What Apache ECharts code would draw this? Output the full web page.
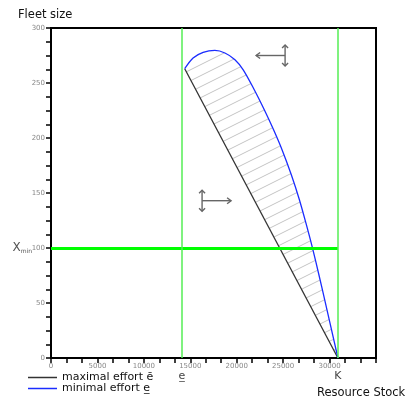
<!DOCTYPE html>
<html><head><meta charset="utf-8">
<script src="https://cdn.jsdelivr.net/npm/echarts@6/dist/echarts.min.js"></script>
<style>html,body{margin:0;padding:0;background:#fff}#c{width:409px;height:403px}</style>
</head><body><div id="c"></div>
<script>
// ---- data ----
const xAxisMax = 35000;
const yAxisMax = 300;
const maxEffortX = [14400, 30900];
const maxEffortY = [263, 0];
const minEffortX = [14400, 15300, 16380, 17650, 18730, 19810, 20700, 21890, 22970, 23970, 24880, 25880, 26750, 27500, 28150, 28850, 29470, 30900];
const minEffortY = [263, 272.7, 277.8, 279.6, 277.3, 271.2, 262, 243.9, 225.7, 207.5, 189.4, 166.6, 143.9, 121.2, 100.3, 75.7, 53, 0];
const eLower = 14100;      // minimal stock level (e underlined)
const Kvalue = 30900;      // carrying capacity K
const xMinValue = 100;     // minimal fleet size
const arrowX = [25210, 16270];
const arrowY = [275, 143];
const arrowDir = [-1, 1];
const seriesNames = ['maximal effort \u0113', 'minimal effort e\u0332'];

// ---- hatch pattern ----
const hatch = document.createElement('canvas');
hatch.width = 22; hatch.height = 11;
(function () {
  const ctx = hatch.getContext('2d');
  ctx.strokeStyle = '#c4c4c4'; ctx.lineWidth = 1;
  for (let k = -1; k <= 1; k++) {
    ctx.beginPath();
    ctx.moveTo(0, 11 + 11 * k);
    ctx.lineTo(22, 0 + 11 * k);
    ctx.stroke();
  }
})();

const chart = echarts.init(document.getElementById('c'), null, {renderer: 'canvas'});
const tickLabel = {fontSize: 7, fontFamily: 'DejaVu Sans', color: '#888', formatter: v => String(v)};
const legendBase = {
  orient: 'horizontal', left: 28, icon: 'rect', itemWidth: 29, itemHeight: 1.5,
  selectedMode: false, padding: 0,
  textStyle: {fontSize: 11, fontFamily: 'DejaVu Sans', color: '#111'}
};

chart.setOption({
  animation: false,
  backgroundColor: '#fff',
  grid: {left: 51, right: 33, top: 28, bottom: 45, show: true, borderColor: '#000', borderWidth: 2},
  xAxis: {
    type: 'value', min: 0, max: xAxisMax, interval: 5000,
    axisLine: {show: true, onZero: false, lineStyle: {color: '#000', width: 2}},
    axisTick: {show: true, length: 5, lineStyle: {color: '#000', width: 1.5}},
    minorTick: {show: true, splitNumber: 3, length: 5, lineStyle: {color: '#000', width: 1.5}},
    splitLine: {show: false},
    axisLabel: Object.assign({margin: 5, showMaxLabel: false}, tickLabel)
  },
  yAxis: {
    type: 'value', min: 0, max: yAxisMax, interval: 50,
    axisLine: {show: true, onZero: false, lineStyle: {color: '#000', width: 2}},
    axisTick: {show: true, length: 5, lineStyle: {color: '#000', width: 1.5}},
    minorTick: {show: true, splitNumber: 4, length: 5, lineStyle: {color: '#000', width: 1.5}},
    splitLine: {show: false},
    axisLabel: Object.assign({margin: 6}, tickLabel)
  },
  legend: [
    Object.assign({data: [seriesNames[0]], top: 372}, legendBase),
    Object.assign({data: [seriesNames[1]], top: 383}, legendBase)
  ],
  graphic: [
    {type: 'text', left: 18, top: 9, style: {text: 'Fleet size', fontSize: 11.5, fontFamily: 'DejaVu Sans', fill: '#111'}},
    {type: 'text', left: 317, top: 387, style: {text: 'Resource Stock', fontSize: 11.5, fontFamily: 'DejaVu Sans', fill: '#111'}}
  ],
  series: [
    {
      type: 'custom', name: 'hatch', z: 1, silent: true,
      data: [[0, 0]],
      renderItem: function (params, api) {
        const pts = minEffortX.map((x, i) => api.coord([x, minEffortY[i]]));
        for (let i = maxEffortX.length - 1; i >= 0; i--) pts.push(api.coord([maxEffortX[i], maxEffortY[i]]));
        return {type: 'polygon', shape: {points: pts, smooth: 0}, style: {fill: {image: hatch, repeat: 'repeat'}, stroke: null}};
      }
    },
    {
      type: 'line', name: seriesNames[0], z: 3, symbol: 'none',
      data: maxEffortX.map((x, i) => [x, maxEffortY[i]]),
      lineStyle: {color: '#333', width: 1.3}, itemStyle: {color: '#333'},
      markLine: {
        silent: true, symbol: 'none', animation: false,
        data: [
          [{coord: [0, xMinValue], lineStyle: {color: '#00ff00', width: 3, type: 'solid'},
            label: {show: true, position: 'start', distance: 19, formatter: '{x|X}{s|min}',
              rich: {x: {fontSize: 12, fontFamily: 'DejaVu Sans', color: '#555'},
                     s: {fontSize: 6, fontFamily: 'DejaVu Sans', color: '#555', padding: [7, 0, 0, 0]}}}},
           {coord: [Kvalue, xMinValue]}],
          [{coord: [eLower, 0], lineStyle: {color: '#55ee55', width: 1.5, type: 'solid'},
            label: {show: true, position: 'start', distance: 13, formatter: 'e\u0332', fontSize: 11, fontFamily: 'DejaVu Sans', color: '#444'}},
           {coord: [eLower, yAxisMax]}],
          [{coord: [Kvalue, 0], lineStyle: {color: '#55ee55', width: 1.5, type: 'solid'},
            label: {show: true, position: 'start', distance: 13, formatter: 'K', fontSize: 11, fontFamily: 'DejaVu Sans', color: '#444'}},
           {coord: [Kvalue, yAxisMax]}]
        ]
      }
    },
    {
      type: 'line', name: seriesNames[1], z: 4, symbol: 'none', smooth: 0.3,
      data: minEffortX.map((x, i) => [x, minEffortY[i]]),
      lineStyle: {color: '#1a2cff', width: 1.3}, itemStyle: {color: '#1a2cff'}
    },
    {
      type: 'custom', name: 'arrows', z: 5, silent: true,
      data: arrowX.map((x, i) => [x, arrowY[i], arrowDir[i]]),
      renderItem: function (params, api) {
        const p = api.coord([api.value(0), api.value(1)]);
        const d = api.value(2);
        const c = '#666', h = 10.5, L = 29;
        const st = {stroke: c, fill: null, lineWidth: 1.4};
        return {type: 'group', x: p[0], y: p[1], children: [
          {type: 'line', shape: {x1: 0, y1: -h, x2: 0, y2: h}, style: st},
          {type: 'polyline', shape: {points: [[-3, -h + 3], [0, -h], [3, -h + 3]]}, style: st},
          {type: 'polyline', shape: {points: [[-3, h - 3], [0, h], [3, h - 3]]}, style: st},
          {type: 'line', shape: {x1: 0, y1: 0, x2: d * L, y2: 0}, style: st},
          {type: 'polyline', shape: {points: [[d * (L - 4), -3], [d * L, 0], [d * (L - 4), 3]]}, style: st}
        ]};
      }
    }
  ]
});
</script></body></html>
